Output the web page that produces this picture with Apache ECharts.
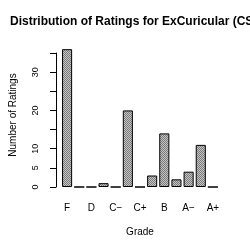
<!DOCTYPE html>
<html>
<head>
<meta charset="utf-8">
<script src="https://cdn.jsdelivr.net/npm/echarts@6/dist/echarts.min.js"></script>
<style>html,body{margin:0;padding:0;background:#fff;}#c{width:250px;height:250px;}</style>
</head>
<body>
<div id="c"></div>
<script>
var categories = ['F', 'D\u2212', 'D', 'D+', 'C\u2212', 'C', 'C+', 'B\u2212', 'B', 'B+', 'A\u2212', 'A', 'A+'];
var ratings = [36, 0, 0, 1, 0, 20, 0, 3, 14, 2, 4, 11, 0];
var yTicks = [0, 5, 10, 15, 20, 25, 30, 35];
var yTickLabels = ['0', '5', '10', '', '20', '', '30', ''];
var titleText = 'Distribution of Ratings for ExCuricular (CS';

var pc = document.createElement('canvas');
pc.width = 2; pc.height = 2;
var pctx = pc.getContext('2d');
pctx.fillStyle = '#c4c4c4'; pctx.fillRect(0, 0, 2, 2);
pctx.fillStyle = '#7a7a7a'; pctx.fillRect(0, 0, 1, 1); pctx.fillRect(1, 1, 1, 1);

var FONT = '"Liberation Sans", Arial, sans-serif';
var chart = echarts.init(document.getElementById('c'), null, {renderer: 'canvas'});
chart.setOption({
  animation: false,
  backgroundColor: '#ffffff',
  title: {
    text: titleText, left: 10, top: 16, padding: 0,
    textStyle: {fontFamily: FONT, fontSize: 12, fontWeight: 'bold', color: '#000'}
  },
  grid: {left: 54, right: 31, top: 53, bottom: 63, containLabel: false},
  xAxis: {
    type: 'category', data: categories,
    axisLine: {show: false}, axisTick: {show: false},
    axisLabel: {interval: 1, margin: 16, fontFamily: FONT, fontSize: 10, color: '#000'},
    name: 'Grade', nameLocation: 'middle', nameGap: 40,
    nameTextStyle: {fontFamily: FONT, fontSize: 10, color: '#000'}
  },
  yAxis: {
    type: 'value', min: 0, max: 35, interval: 5, offset: 5,
    axisLine: {show: true, lineStyle: {color: '#000', width: 1}},
    axisTick: {show: true, length: 6, lineStyle: {color: '#000', width: 1}},
    splitLine: {show: false},
    axisLabel: {
      rotate: 90, margin: 16, fontFamily: FONT, fontSize: 9, color: '#000',
      formatter: function (v) { var i = yTicks.indexOf(v); return i >= 0 ? yTickLabels[i] : ''; }
    },
    name: 'Number of Ratings', nameLocation: 'middle', nameGap: 38,
    nameTextStyle: {fontFamily: FONT, fontSize: 10, color: '#000', padding: [0, 0, 0, 10]}
  },
  series: [{
    type: 'bar', data: ratings, barWidth: '83%', clip: false,
    itemStyle: {color: {image: pc, repeat: 'repeat'}, borderColor: '#000', borderWidth: 1}
  }]
});
</script>
</body>
</html>
